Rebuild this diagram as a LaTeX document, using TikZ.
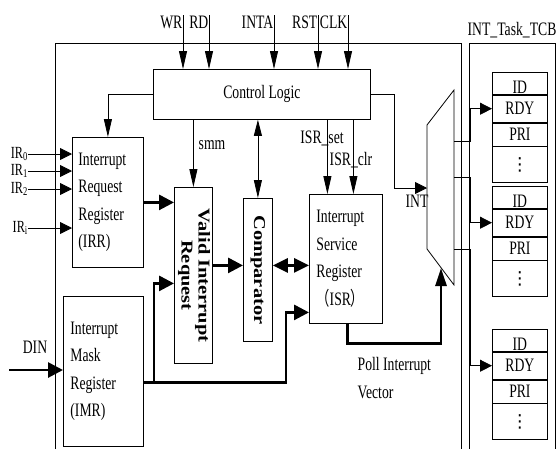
\documentclass[tikz,border=0pt]{standalone}
\usepackage{fontspec}
\setmainfont{Liberation Serif}[FakeStretch=0.72]
\newfontfamily\rotfont{Liberation Serif}[FakeStretch=1.23]
\newfontfamily\cjk{Noto Sans CJK SC}[FakeStretch=0.7]
\newfontfamily\symfont{DejaVu Sans}
\usetikzlibrary{arrows.meta, positioning, calc}
\newcommand\vdotz{{\symfont\fontsize{18}{18}\selectfont ⋮}}

\begin{document}
\begin{tikzpicture}[x=1pt, y=-1pt,
  every node/.style={font=\fontsize{19}{27.5}\selectfont},
  box/.style={rectangle, draw, line width=0.8pt, anchor=north west, inner sep=0pt},
  regbox/.style={box, align=left, inner xsep=6pt},
  rotbox/.style={box, font=\rotfont\bfseries\fontsize{16.6}{17}\selectfont},
  cell/.style={rectangle, draw, line width=0.8pt, minimum width=55pt, inner sep=0pt},
  lbl/.style={inner sep=0.5pt},
  irlbl/.style={inner sep=0pt, anchor=east, font=\fontsize{17}{17}\selectfont},
  wire/.style={line width=0.8pt},
  harr/.style={wire, -{Triangle[length=12pt,width=12pt]}},
  varr/.style={wire, -{Triangle[length=18pt,width=8pt]}},
  bus/.style={line width=2.8pt},
  hbus/.style={bus, -{Triangle[length=15pt,width=15pt]}},
  vbus/.style={bus, -{Triangle[length=18pt,width=11pt]}}
]
  \path[use as bounding box, fill=white] (0,0) rectangle (559,451);

  % frames
  \draw[wire] (55,449) -- (55,43) -- (461,43) -- (461,449);
  \draw[wire] (469,449) -- (469,43) -- (555,43) -- (555,449);
  \node[lbl] (tcbtitle) at (512,30) {INT\_Task\_TCB};

  % blocks
  \node[box, minimum width=217pt, minimum height=50pt] (cl) at (153,69) {Control Logic};
  \node[regbox, minimum width=71pt, minimum height=130pt, text width=59pt] (irr) at (72,137)
    {Interrupt\\Request\\Register\\(IRR)};
  \node[rotbox, minimum width=38pt, minimum height=176pt, inner sep=1pt] (vir) at (174,187)
    {\rotatebox{-90}{\begin{tabular}{@{}c@{}}Valid Interrupt\\Request\end{tabular}}};
  \node[rotbox, minimum width=29pt, minimum height=143pt] (cmp) at (243,198)
    {\rotatebox{-90}{Comparator}};
  \node[regbox, inner xsep=7pt, minimum width=73pt, minimum height=129pt, text width=59pt] (isr) at (309,194)
    {Interrupt\\Service\\Register\\{\cjk（}ISR{\cjk）}};
  \node[regbox, inner xsep=7pt, minimum width=80pt, minimum height=150pt, text width=66pt] (imr) at (63,296)
    {Interrupt\\Mask\\Register\\(IMR)};

  \coordinate (mux-a) at (427,125);
  \coordinate (mux-b) at (454,90);
  \coordinate (mux-c) at (454,285);
  \coordinate (mux-d) at (427,249);
  \draw[wire] (mux-a) -- (mux-b) -- (mux-c) -- (mux-d) -- cycle;

  \foreach \k/\top in {1/72, 2/186, 3/329} {
    \node[cell, anchor=north west, minimum height=22pt] (id\k) at (492,\top) {};
    \node[cell, anchor=north, minimum height=27pt] (rdy\k) at (id\k.south) {RDY};
    \node[cell, anchor=north, minimum height=23pt] (pri\k) at (rdy\k.south) {PRI};
    \node[cell, anchor=north, minimum height=36pt] (dots\k) at (pri\k.south) {\vdotz};
    \node[lbl, anchor=base] (idt\k) at ([yshift=1pt]id\k.south) {ID};
  }

  % control inputs
  \foreach \nm/\txt/\xx in {wr/WR/183, rd/RD/209, inta/INTA/274, rst/RST/318, clk/CLK/348} {
    \node[lbl, anchor=north east] (\nm) at (\xx,15) {\txt};
    \draw[varr] (\nm.north east) -- (\nm.north east |- cl.north);
  }

  % interrupt request lines
  \foreach \sub/\yy in {0/154, 1/171, 2/189, i/228} {
    \node[irlbl] (ir\sub) at (28,\yy) {IR\textsubscript{\sub}};
    \draw[harr] (ir\sub.east) -- (ir\sub.east -| irr.west);
  }

  \node[lbl, anchor=west] (smm) at (198,145) {smm};
  \node[lbl] (isrset) at (322,138) {ISR\_set};
  \node[lbl] (isrclr) at (351,160) {ISR\_clr};
  \node[lbl] (int) at (417,201) {INT};
  \node[lbl, anchor=north west, align=left] (poll) at (357,357) {Poll Interrupt\\Vector};
  \node[lbl] (din) at (35,347) {DIN};

  \coordinate (mux-in) at (427,188);
  \coordinate (mux-poll) at (441,268);
  \coordinate (din-in) at (9,370);
  \coordinate (imr-out) at ([yshift=-11pt]imr.east);
  \coordinate (vir-in) at ([yshift=-8pt]vir.west);
  \coordinate (imr-br) at ([xshift=-20pt]vir-in);
  \coordinate (isr-in) at ([yshift=-53.5pt]isr.west);
  \coordinate (isr-br) at ([xshift=-23pt]isr-in);
  \coordinate (isr-out) at ([xshift=1.5pt]isr.south);
  \coordinate (cmp-l) at ([yshift=4.5pt]cmp.west);
  \coordinate (cmp-r) at ([yshift=4.5pt]cmp.east);
  \coordinate (set-in) at ([xshift=-18.5pt]isr.north);
  \coordinate (clr-in) at ([xshift=7.5pt]isr.north);

  % connectors
  \draw[varr] (cl.west) -| (irr.north);
  \draw[varr] (vir.north |- cl.south) -- (vir.north);
  \draw[wire, {Triangle[length=16pt,width=8pt]}-{Triangle[length=18pt,width=8pt]}]
    (cmp.north |- cl.south) -- (cmp.north);
  \draw[varr] (set-in |- cl.south) -- (set-in);
  \draw[varr] (clr-in |- cl.south) -- (clr-in);
  \draw[harr] (cl.east) -- ++(24,0) |- (mux-in);

  \draw[hbus] (irr.east) -- (irr.east -| vir.west);
  \draw[hbus] (cmp-l -| vir.east) -- (cmp-l);
  \draw[bus, {Triangle[length=15pt,width=14pt]}-{Triangle[length=15pt,width=14pt]}]
    (cmp-r) -- (cmp-r -| isr.west);
  \draw[hbus] (din-in) -- (din-in -| imr.west);
  \draw[hbus] (imr-out) -| (isr-br) -- (isr-in);
  \draw[hbus] (imr-br |- imr-out) -- (imr-br) -- (vir-in);
  \draw[vbus] (isr-out) -- ++(0,20) -| (mux-poll);

  \coordinate (mux-o1) at (454,141);
  \coordinate (mux-o2) at (454,177);
  \coordinate (mux-o3) at (454,249);
  \foreach \k in {1,2,3}
    \draw[harr] (mux-o\k) -- ++(16,0) |- (rdy\k.west);
\end{tikzpicture}
\end{document}
